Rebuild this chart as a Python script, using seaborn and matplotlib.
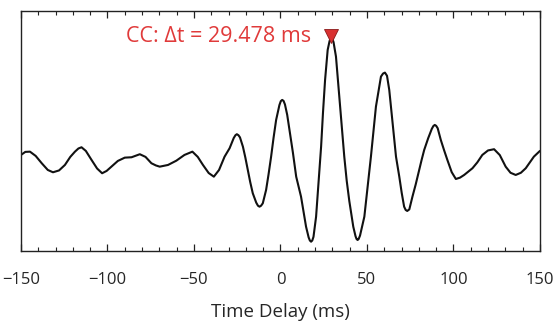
"""
Cross-correlation trace with peak lag marker
"""

import numpy as np
import pandas as pd
import matplotlib
matplotlib.use("Agg")
import matplotlib.pyplot as plt
from matplotlib.ticker import MultipleLocator
import seaborn as sns


# =============================================================================
# DATA
# =============================================================================

LAG_MS = [
    -150.0, -147.5, -144.8, -141.5, -138.0, -134.5, -131.5, -128.0, -124.6,
    -121.5, -118.8, -116.8, -115.0, -112.5, -109.2, -106.0, -103.1, -100.5,
    -97.7, -94.0, -90.0, -86.1, -81.3, -78.0, -74.6, -72.0, -69.8, -65.0,
    -60.2, -55.5, -50.9, -47.8, -44.8, -41.5, -38.5, -35.5, -32.3, -29.4,
    -27.0, -26.0, -25.2, -24.3, -23.4, -21.7, -20.3, -18.9, -17.5, -16.0,
    -14.0, -13.0, -12.1, -11.2, -10.2, -8.3, -6.9, -5.4, -4.0, -2.5, -0.6,
    0.2, 1.0, 1.8, 2.6, 3.9, 5.2, 7.2, 9.1, 11.9, 14.8, 16.3, 17.0, 17.7,
    18.4, 19.1, 20.6, 22.0, 23.5, 24.6, 25.8, 27.3, 28.4, 29.0, 29.478,
    30.0, 30.7, 32.1, 34.0, 35.4, 36.9, 38.3, 39.8, 42.1, 43.4, 44.0, 44.6,
    45.2, 46.0, 48.5, 50.4, 52.3, 53.8, 55.2, 58.1, 59.3, 60.4, 61.6, 62.9,
    64.0, 65.2, 66.8, 68.7, 70.1, 71.5, 72.4, 73.3, 74.5, 76.3, 78.2, 80.2,
    81.6, 83.1, 85.4, 87.5, 88.4, 89.2, 90.0, 90.9, 92.7, 94.6, 96.5, 99.0,
    101.4, 103.8, 106.2, 111.0, 113.8, 116.7, 120.0, 123.5, 126.8, 130.2,
    133.0, 136.0, 139.0, 141.8, 146.5, 150.0,
]

CC_VALUE = [
    0.041, 0.066, 0.068, 0.033, -0.027, -0.082, -0.101, -0.086, -0.041,
    0.025, 0.068, 0.094, 0.104, 0.074, 0.000, -0.070, -0.109, -0.090,
    -0.055, -0.008, 0.019, 0.022, 0.047, 0.025, -0.027, -0.045, -0.055, -0.041,
    -0.006, 0.041, 0.068, 0.025, -0.041, -0.107, -0.137, -0.082, 0.027, 0.096,
    0.180, 0.203, 0.211, 0.203, 0.185, 0.109, 0.020, -0.082, -0.180, -0.273,
    -0.350, -0.375, -0.383, -0.375, -0.355, -0.246, -0.120, 0.027, 0.180, 0.328, 0.450,
    0.482, 0.492, 0.484, 0.455, 0.370, 0.246, 0.060, -0.137, -0.301, -0.547, -0.635, -0.660, -0.670,
    -0.660, -0.630, -0.465, -0.190, 0.109, 0.390, 0.656, 0.902, 0.975, 0.995, 1.000,
    0.995, 0.965, 0.847, 0.519, 0.270, 0.027, -0.170, -0.336, -0.547, -0.625, -0.648, -0.656,
    -0.648, -0.620, -0.465, -0.220, 0.027, 0.240, 0.437, 0.683, 0.708, 0.716, 0.690, 0.574,
    0.420, 0.246, 0.027, -0.137, -0.270, -0.383, -0.410, -0.418, -0.405, -0.301, -0.200, -0.082,
    0.000, 0.082, 0.178, 0.255, 0.278, 0.287, 0.280, 0.260, 0.164, 0.080, 0.000, -0.100,
    -0.156, -0.145, -0.123, -0.068, -0.020, 0.041, 0.078, 0.088, 0.040, -0.055,
    -0.105, -0.123, -0.105, -0.068, 0.027, 0.074,
]

PEAK_LAG = 29.478
PEAK_LABEL = 'CC: \u0394t = 29.478 ms'
X_TICKS = [-150, -100, -50, 0, 50, 100, 150]

RED = '#e03a3a'


# =============================================================================
# PLOT
# =============================================================================

def main(output_path='out.png'):
    sns.set_style('ticks')
    plt.rcParams['font.family'] = ['Open Sans', 'DejaVu Sans']

    df = pd.DataFrame({'lag': LAG_MS, 'cc': CC_VALUE})

    fig = plt.figure(figsize=(5.58, 3.23), dpi=100)
    ax = fig.add_axes([0.0376, 0.223, 0.930, 0.743])

    sns.lineplot(data=df, x='lag', y='cc', sort=False, color='#111111',
                 linewidth=1.5, ax=ax)
    ax.lines[0].set_solid_joinstyle('round')

    # peak marker
    peak_val = df.loc[df['lag'] == PEAK_LAG, 'cc'].iloc[0]
    ax.plot([PEAK_LAG], [peak_val + 0.02], marker='v', markersize=10,
            color='#d93030', markeredgecolor='#8a1a1a', markeredgewidth=0.6,
            zorder=5)
    ax.text(PEAK_LAG - 12, peak_val + 0.015, PEAK_LABEL, color=RED,
            fontsize=15.5, ha='right', va='center')

    ax.set_xlim(-150, 150)
    ax.set_ylim(-0.746, 1.221)
    ax.set_xticks(X_TICKS)
    ax.xaxis.set_minor_locator(MultipleLocator(10))
    ax.set_yticks([])
    ax.tick_params(axis='x', which='both', direction='in', top=True,
                   bottom=True, labelsize=12, pad=15, color='#222222')
    ax.tick_params(axis='x', which='major', length=5, width=0.9)
    ax.tick_params(axis='x', which='minor', length=3, width=0.8)
    for s in ax.spines.values():
        s.set_visible(True)
        s.set_linewidth(1.0)
        s.set_color('#222222')

    ax.set_xlabel('Time Delay (ms)', fontsize=13.5, labelpad=11)
    ax.set_ylabel('')

    fig.savefig(output_path, dpi=100, facecolor='white')
    plt.close(fig)


if __name__ == '__main__':
    main()
